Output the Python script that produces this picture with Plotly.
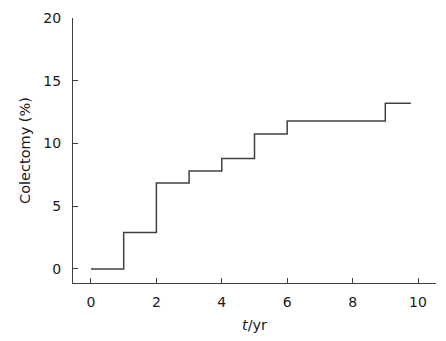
import plotly.graph_objects as go

years = [0, 1, 2, 3, 4, 5, 6, 9, 9.78]
colectomy_pct = [0, 2.9, 6.85, 7.8, 8.8, 10.75, 11.8, 13.2, 13.2]
x_ticks = [0, 2, 4, 6, 8, 10]
y_ticks = [0, 5, 10, 15, 20]

FONT = "DejaVu Sans, sans-serif"

fig = go.Figure()
fig.add_trace(go.Scatter(
    x=years, y=colectomy_pct, mode="lines",
    line=dict(shape="hv", color="#404040", width=1.5),
    showlegend=False, hoverinfo="skip",
))

axis_common = dict(
    showline=True, linecolor="#404040", linewidth=1.2,
    ticks="inside", ticklen=5, tickcolor="#404040", tickwidth=1,
    showgrid=False, zeroline=False, automargin=False,
    tickfont=dict(family=FONT, size=14, color="#1a1a1a"),
)

fig.update_layout(
    width=446, height=341,
    margin=dict(l=73, r=10, t=18, b=58),
    paper_bgcolor="white", plot_bgcolor="white",
    xaxis=dict(range=[-0.55, 10.55], tickvals=x_ticks,
               title=dict(text="<i>t</i>/yr", font=dict(family=FONT, size=14.5, color="#1a1a1a"), standoff=10),
               ticklabelstandoff=6, **axis_common),
    yaxis=dict(range=[-1.12, 20], tickvals=y_ticks,
               title=dict(text="Colectomy (%)", font=dict(family=FONT, size=14.5, color="#1a1a1a"), standoff=9),
               ticklabelstandoff=8, **axis_common),
)

fig.write_html("out.html",
               config={"displayModeBar": False},
               post_script="document.body.style.margin='0';document.body.style.overflow='hidden';")
